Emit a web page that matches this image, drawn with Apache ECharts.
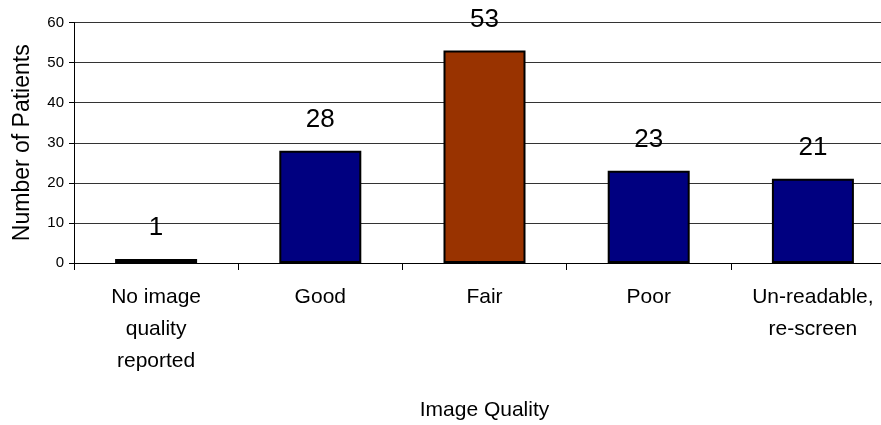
<!DOCTYPE html>
<html>
<head>
<meta charset="utf-8">
<script src="https://cdn.jsdelivr.net/npm/echarts@6/dist/echarts.min.js"></script>
<style>
html,body{margin:0;padding:0;background:#fff;}
#chart{width:881px;height:425px;}
</style>
</head>
<body>
<div id="chart"></div>
<script>
const categories = ['No image\nquality\nreported', 'Good', 'Fair', 'Poor', 'Un-readable,\nre-screen'];
const patients = [1, 28, 53, 23, 21];
const highlightCategory = 'Fair';
const yTicks = { min: 0, max: 60, interval: 10 };

const FONT = 'Liberation Sans, Arial, sans-serif';
const chart = echarts.init(document.getElementById('chart'), null, { renderer: 'canvas' });
chart.setOption({
  animation: false,
  backgroundColor: '#fff',
  grid: { left: 74, width: 821, top: 22.5, height: 240.5, containLabel: false, outerBoundsMode: 'none' },
  xAxis: {
    type: 'category',
    data: categories,
    name: 'Image Quality',
    nameLocation: 'middle',
    nameGap: 137,
    nameTextStyle: { fontFamily: FONT, fontSize: 21, color: '#000' },
    axisLine: { lineStyle: { color: '#000', width: 1 } },
    axisTick: { show: true, length: 7, lineStyle: { color: '#000' } },
    axisLabel: { fontFamily: FONT, fontSize: 21, color: '#000', lineHeight: 32, margin: 18, interval: 0 }
  },
  yAxis: {
    type: 'value',
    min: yTicks.min, max: yTicks.max, interval: yTicks.interval,
    name: 'Number of Patients',
    nameLocation: 'middle',
    nameGap: 40,
    nameTextStyle: { fontFamily: FONT, fontSize: 23, color: '#000' },
    axisLine: { show: true, lineStyle: { color: '#000', width: 1 } },
    axisTick: { show: true, length: 5, lineStyle: { color: '#000' } },
    axisLabel: { fontFamily: FONT, fontSize: 15, color: '#000', margin: 10 },
    splitLine: { show: true, lineStyle: { color: '#333', width: 1 } }
  },
  series: [{
    type: 'bar',
    data: patients.map((v, i) => ({
      value: v,
      itemStyle: { color: categories[i] === highlightCategory ? '#993300' : '#000080' }
    })),
    barWidth: 82,
    itemStyle: { borderColor: '#000', borderWidth: 2 },
    label: {
      show: true, position: 'top', distance: 18,
      fontFamily: FONT, fontSize: 26, color: '#000'
    }
  }]
});
</script>
</body>
</html>
